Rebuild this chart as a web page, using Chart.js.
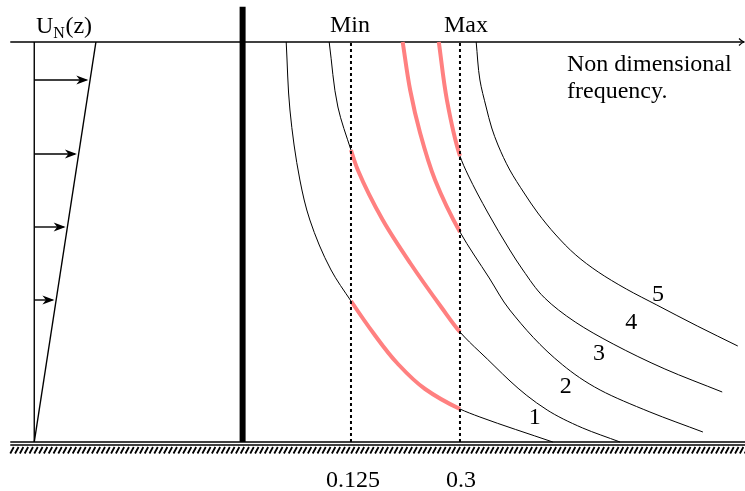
<!DOCTYPE html>
<html>
<head>
<meta charset="utf-8">
<script src="https://cdn.jsdelivr.net/npm/chart.js@4.4.1/dist/chart.umd.min.js"></script>
<style>
  html, body { margin: 0; padding: 0; background: #fff; }
  #wrap { width: 745px; height: 491px; }
</style>
</head>
<body>
<div id="wrap"><canvas id="chart"></canvas></div>
<script>
// x = non dimensional frequency, y = height z (0 ground, 1 top)
const modeLabels = ['1', '2', '3', '4', '5'];

const mode1Freq   = [0.021, 0.027, 0.043, 0.059, 0.093, 0.125, 0.162, 0.199, 0.244, 0.3, 0.332, 0.449];
const mode1Height = [1, 0.83, 0.655, 0.555, 0.43, 0.3525, 0.27, 0.1975, 0.1325, 0.0825, 0.0625, 0];

const mode2Freq   = [0.090, 0.104, 0.125, 0.136, 0.176, 0.220, 0.271, 0.3, 0.332, 0.440, 0.497, 0.557];
const mode2Height = [1, 0.8375, 0.73, 0.68, 0.555, 0.4475, 0.335, 0.275, 0.225, 0.08, 0.035, 0];

const mode3Freq   = [0.208, 0.220, 0.236, 0.260, 0.3, 0.347, 0.380, 0.465, 0.525, 0.605, 0.690];
const mode3Height = [1, 0.88, 0.7725, 0.655, 0.525, 0.41, 0.33, 0.1925, 0.13, 0.075, 0.025];

const mode4Freq   = [0.266, 0.279, 0.3, 0.313, 0.345, 0.380, 0.401, 0.436, 0.485, 0.546, 0.629, 0.721];
const mode4Height = [1, 0.855, 0.715, 0.6675, 0.5725, 0.48, 0.43, 0.36, 0.3, 0.245, 0.1825, 0.125];

const mode5Freq   = [0.326, 0.332, 0.342, 0.351, 0.361, 0.380, 0.403, 0.425, 0.454, 0.486, 0.522, 0.567, 0.616, 0.681, 0.746];
const mode5Height = [1, 0.905, 0.8375, 0.785, 0.7425, 0.68, 0.6225, 0.5725, 0.5175, 0.4675, 0.425, 0.3825, 0.3425, 0.29, 0.24];

// frequency band
const bandTicks = [0.125, 0.3];
const bandTickLabels = ['0.125', '0.3'];
const bandNames = ['Min', 'Max'];

// wind profile U_N(z)
const profileHeight = [0, 1];
const profileSpeed = [0, 0.099];
const arrowHeights = [0.905, 0.72, 0.5375, 0.355];

const modeFreqs = [mode1Freq, mode2Freq, mode3Freq, mode4Freq, mode5Freq];
const modeHeights = [mode1Height, mode2Height, mode3Height, mode4Height, mode5Height];

const profileOrigin = -0.3835;
const wallFreq = -0.049;
const axisStart = -0.422;
const axisEnd = 0.756;
const highlight = 'rgb(255,128,128)';
const serif = '"Liberation Serif", "DejaVu Serif", serif';

const pts = (xs, ys) => xs.map((x, i) => ({ x: x, y: ys[i] }));
const inBand = c => c.p0.parsed.x >= bandTicks[0] - 1e-9 && c.p1.parsed.x <= bandTicks[1] + 1e-9;
const speedAt = z => profileSpeed[0] + (profileSpeed[1] - profileSpeed[0]) * (z - profileHeight[0]) / (profileHeight[1] - profileHeight[0]);

function plain(data, extra) {
  return Object.assign({
    data: data, showLine: true, borderColor: '#000', borderWidth: 1,
    pointRadius: 0, fill: false, order: 2
  }, extra || {});
}

const datasets = [];

// mode curves, red between Min and Max (frequency is monotone in height, so interpolate along y)
modeFreqs.forEach((fs, i) => {
  datasets.push(plain(pts(fs, modeHeights[i]), {
    label: 'mode ' + modeLabels[i],
    indexAxis: 'y',
    cubicInterpolationMode: 'monotone',
    order: 1,
    segment: {
      borderColor: c => inBand(c) ? highlight : undefined,
      borderWidth: c => inBand(c) ? 4 : undefined
    }
  }));
});

// dashed band limits
bandTicks.forEach(f => {
  datasets.push(plain([{ x: f, y: 0 }, { x: f, y: 1 }], { borderWidth: 2, borderDash: [3, 3], order: 0 }));
});

// top axis and ground
datasets.push(plain([{ x: axisStart, y: 1 }, { x: axisEnd, y: 1 }], { borderWidth: 1.3 }));
datasets.push(plain([{ x: axisStart, y: 0 }, { x: axisEnd + 0.01, y: 0 }], { borderWidth: 1.7 }));
datasets.push(plain([{ x: axisStart, y: -0.0075 }, { x: axisEnd + 0.01, y: -0.0075 }], { borderWidth: 1.7 }));

// wall
datasets.push(plain([{ x: wallFreq, y: 0 }, { x: wallFreq, y: 1.088 }], { borderWidth: 6 }));

// profile
datasets.push(plain([{ x: profileOrigin, y: 0 }, { x: profileOrigin, y: 1 }], { borderWidth: 1.4 }));
datasets.push(plain(pts(profileHeight.map(z => profileOrigin + speedAt(z)), profileHeight), { borderWidth: 1.4 }));
arrowHeights.forEach(z => {
  datasets.push(plain([{ x: profileOrigin, y: z }, { x: profileOrigin + speedAt(z) - 0.006, y: z }], { borderWidth: 1.4, arrow: true }));
});

const decor = {
  id: 'decor',
  afterDatasetsDraw(chart) {
    const ctx = chart.ctx;
    const sx = chart.scales.x, sy = chart.scales.y;
    const px = v => sx.getPixelForValue(v);
    const py = v => sy.getPixelForValue(v);
    ctx.save();

    // hatching under the ground
    const g = py(-0.0075);
    ctx.strokeStyle = '#000';
    ctx.lineWidth = 1.8;
    ctx.beginPath();
    for (let x = px(axisStart); x < chart.width + 5; x += 4.8) {
      ctx.moveTo(x, g + 8.5);
      ctx.lineTo(x + 3.5, g + 2);
    }
    ctx.stroke();

    // arrow heads of the profile
    ctx.fillStyle = '#000';
    chart.data.datasets.forEach(ds => {
      if (!ds.arrow) return;
      const last = ds.data[ds.data.length - 1];
      const tx = px(last.x) + 2, ty = py(last.y);
      ctx.beginPath();
      ctx.moveTo(tx, ty);
      ctx.lineTo(tx - 12, ty - 4.5);
      ctx.lineTo(tx - 8.5, ty);
      ctx.lineTo(tx - 12, ty + 4.5);
      ctx.closePath();
      ctx.fill();
    });

    // arrow at the end of the top axis
    const ax = px(axisEnd), ay = py(1);
    ctx.lineWidth = 1.2;
    ctx.beginPath();
    ctx.moveTo(ax - 5, ay - 3.5);
    ctx.quadraticCurveTo(ax - 2, ay - 0.5, ax, ay);
    ctx.quadraticCurveTo(ax - 2, ay + 0.5, ax - 5, ay + 3.5);
    ctx.stroke();

    // texts
    ctx.fillStyle = '#000';
    ctx.textBaseline = 'alphabetic';
    ctx.font = '24px ' + serif;
    ctx.textAlign = 'center';
    ctx.fillText(bandNames[0], px(bandTicks[0]) - 1, 32);
    ctx.fillText(bandNames[1], px(bandTicks[1]) + 6, 32);
    ctx.fillText(bandTickLabels[0], px(bandTicks[0]) + 2, 487);
    ctx.fillText(bandTickLabels[1], px(bandTicks[1]) + 1, 487);

    const labelAt = [[0.420, 0.06], [0.470, 0.138], [0.523, 0.22], [0.575, 0.298], [0.618, 0.368]];
    ctx.textBaseline = 'middle';
    modeLabels.forEach((t, i) => ctx.fillText(t, px(labelAt[i][0]), py(labelAt[i][1])));

    ctx.textBaseline = 'alphabetic';
    ctx.textAlign = 'left';
    ctx.fillText('Non dimensional', 567, 71);
    ctx.fillText('frequency.', 567, 98);

    let ux = 36;
    ctx.fillText('U', ux, 33);
    ux += ctx.measureText('U').width;
    ctx.font = '16px ' + serif;
    ctx.fillText('N', ux, 38);
    ux += ctx.measureText('N').width + 0.5;
    ctx.font = '24px ' + serif;
    ctx.fillText('(z)', ux, 33);

    ctx.restore();
  }
};

new Chart(document.getElementById('chart'), {
  type: 'scatter',
  data: { datasets: datasets },
  options: {
    responsive: true,
    maintainAspectRatio: false,
    animation: false,
    layout: { padding: 0 },
    plugins: { legend: { display: false }, tooltip: { enabled: false } },
    scales: {
      x: { type: 'linear', display: false, min: -0.4385, max: 0.7576 },
      y: { type: 'linear', display: false, min: -0.1225, max: 1.105 }
    }
  },
  plugins: [decor]
});
</script>
</body>
</html>
